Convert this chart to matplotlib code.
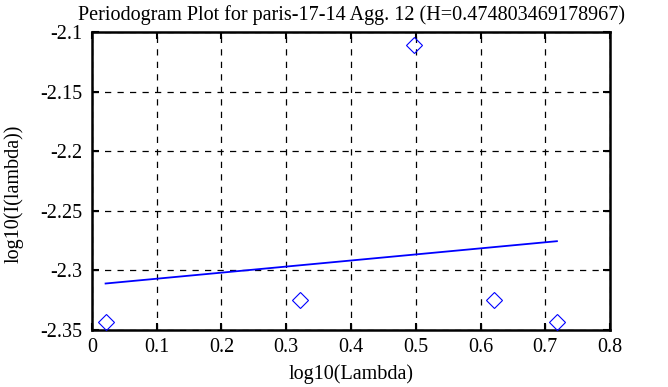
import matplotlib
matplotlib.use("Agg")
import matplotlib.pyplot as plt

# periodogram points (log10 lambda, log10 I(lambda))
log_lambda = [0.021, 0.322, 0.497, 0.621, 0.718]
log_I = [-2.343, -2.325, -2.111, -2.325, -2.343]

# least squares fit line endpoints
fit_x = [0.021, 0.718]
fit_y = [-2.311, -2.2755]

plt.rcParams['font.family'] = ['Liberation Serif', 'DejaVu Serif']
plt.rcParams['font.size'] = 14.5

fig = plt.figure(figsize=(6.68, 3.87), dpi=100)
ax = fig.add_axes([0.1377, 0.1473, 0.9132 - 0.1377, 0.9173 - 0.1473])

ax.plot(log_lambda, log_I, linestyle='none', marker='D', markersize=8,
        markerfacecolor='none', markeredgecolor='blue', markeredgewidth=0.8,
        clip_on=False, zorder=3)
ax.plot(fit_x, fit_y, color='blue', linewidth=1.3, zorder=3)

ax.set_xlim(0, 0.8)
ax.set_ylim(-2.35, -2.1)
ax.set_xticks([0, 0.1, 0.2, 0.3, 0.4, 0.5, 0.6, 0.7, 0.8])
ax.set_xticklabels(['0', '0.1', '0.2', '0.3', '0.4', '0.5', '0.6', '0.7', '0.8'])
ax.set_yticks([-2.35, -2.3, -2.25, -2.2, -2.15, -2.1])
ax.set_yticklabels(['-2.35', '-2.3', '-2.25', '-2.2', '-2.15', '-2.1'])

ax.grid(True, color='black', linestyle=(0, (5, 5)), linewidth=0.9)
ax.tick_params(direction='in', length=5, width=1.5, top=True, right=True)
ax.tick_params(axis='x', pad=6)
ax.tick_params(axis='y', pad=7)
for s in ax.spines.values():
    s.set_linewidth(1.8)

ax.set_xlabel("log10(Lambda)", labelpad=5)
ax.set_ylabel("log10(I(lambda))")
ax.yaxis.set_label_coords(-0.133, 0.458)
ax.set_title("Periodogram Plot for paris-17-14 Agg. 12 (H=0.474803469178967)",
             fontsize=14.5, pad=9)

fig.savefig("out.png", dpi=100)
